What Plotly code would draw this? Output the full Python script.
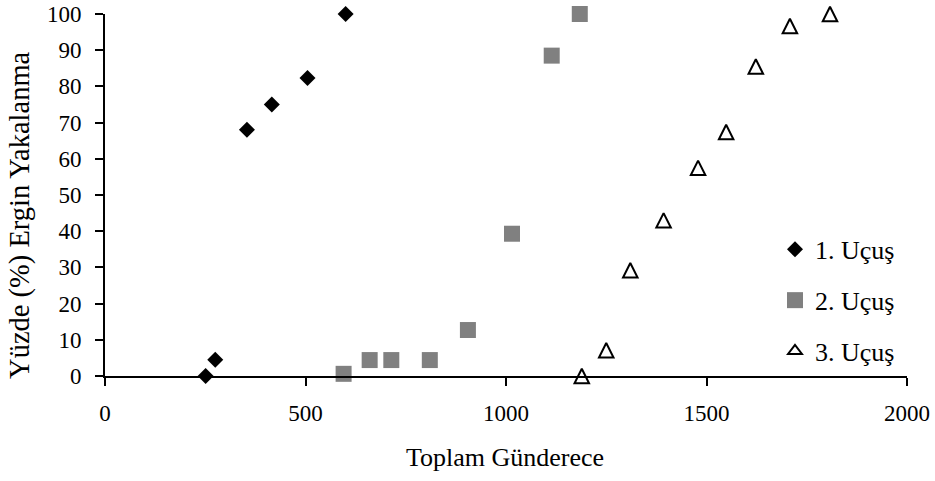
import plotly.graph_objects as go

# Data
s1_x = [251, 275, 354, 416, 505, 600]
s1_y = [0, 4.5, 68, 75, 82.3, 100]
s2_x = [595, 660, 714, 810, 905, 1015, 1114, 1184]
s2_y = [0.6, 4.4, 4.4, 4.4, 12.7, 39.3, 88.5, 100]
s3_x = [1189, 1250, 1310, 1393, 1479, 1549, 1623, 1708, 1808]
s3_y = [0, 7.1, 29.2, 43.0, 57.5, 67.4, 85.5, 96.7, 100]
names = ["1. Uçuş", "2. Uçuş", "3. Uçuş"]
x_ticks = [0, 500, 1000, 1500, 2000]
y_ticks = list(range(0, 101, 10))
x_title = "Toplam Günderece"
y_title = "Yüzde (%) Ergin Yakalanma"

FONT = "Tinos, LiberationSerif, DejaVu Serif"

fig = go.Figure()
fig.add_trace(go.Scatter(x=s1_x, y=s1_y, mode="markers", name=names[0], legendgroup="a",
                         marker=dict(symbol="diamond", size=12.3, color="black"), cliponaxis=False))
fig.add_trace(go.Scatter(x=s2_x, y=s2_y, mode="markers", name=names[1], legendgroup="b",
                         marker=dict(symbol="square", size=16, color="#808080"), cliponaxis=False))
fig.add_trace(go.Scatter(x=s3_x, y=s3_y, mode="markers", name=names[2], showlegend=False,
                         marker=dict(symbol="arrow-down", angle=180, size=14.5, color="white", standoff=7.25,
                                     line=dict(color="black", width=2)), cliponaxis=False))
# legend entry for series 3 (no data of its own)
fig.add_trace(go.Scatter(x=[None], y=[None], mode="markers", name=names[2], legendgroup="c",
                         marker=dict(symbol="triangle-up", size=12, color="white",
                                     line=dict(color="black", width=2))))

fig.update_layout(
    width=935, height=481,
    margin=dict(l=105, r=28, t=14, b=105),
    paper_bgcolor="white", plot_bgcolor="white",
    font=dict(family=FONT, size=23, color="black"),
    showlegend=True,
    legend=dict(x=0.8354, y=0.4145, xanchor="left", yanchor="top", tracegroupgap=14,
                font=dict(family=FONT, size=26), bgcolor="rgba(0,0,0,0)", itemwidth=30),
    xaxis=dict(range=[0, 2000], tickvals=x_ticks, showgrid=False, zeroline=False,
               showline=True, linecolor="black", linewidth=2, automargin=False,
               ticks="outside", ticklen=8, tickwidth=2, tickcolor="black",
               ticklabelstandoff=7, tickfont=dict(family=FONT, size=23)),
    yaxis=dict(range=[0, 100], tickvals=y_ticks, showgrid=False, zeroline=False,
               showline=True, linecolor="black", linewidth=2, automargin=False,
               ticks="outside", ticklen=8, tickwidth=2, tickcolor="black",
               ticklabelstandoff=9, tickfont=dict(family=FONT, size=23)),
    annotations=[
        dict(text=x_title, xref="paper", yref="paper", x=0.499, y=-0.225,
             xanchor="center", yanchor="middle", showarrow=False,
             font=dict(family=FONT, size=26)),
        dict(text=y_title, xref="paper", yref="paper", x=-0.106, y=0.445, textangle=-90,
             xanchor="center", yanchor="middle", showarrow=False,
             font=dict(family=FONT, size=28.5)),
    ],
)

fig.write_html("out.html")
